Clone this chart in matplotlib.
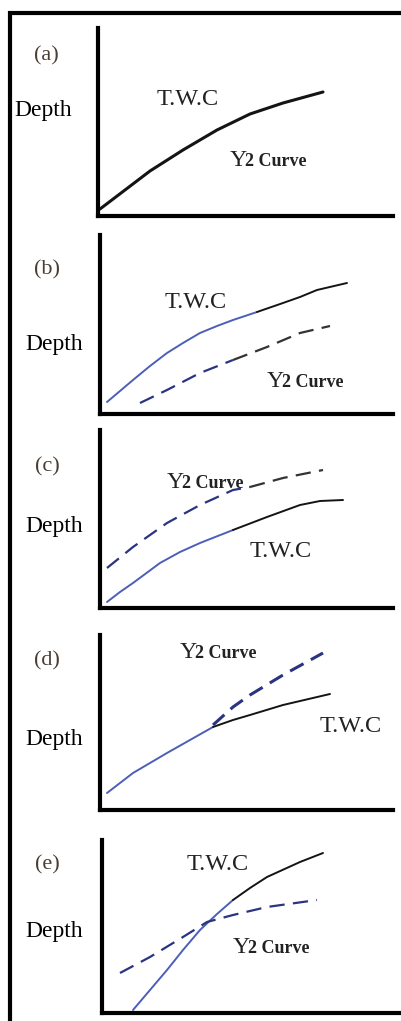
import matplotlib
matplotlib.use("Agg")
import matplotlib.pyplot as plt
from matplotlib.lines import Line2D

W, H = 401, 1021
plt.rcParams['lines.scale_dashes'] = False

# ---- data (axis units: x right from y-axis, y up from x-axis) ----
panel_labels = ["(a)", "(b)", "(c)", "(d)", "(e)"]
y_label = "Depth"
twc_label = "T.W.C"

# panel (a): single black curve
a_twc_x = [2, 27, 52, 85, 119, 152, 185, 225]
a_twc_y = [7, 26, 45, 66, 86, 102, 113, 124]

# panel (b)
b_twc_x = [7, 20, 33, 50, 67, 83, 100, 117, 133, 157, 183, 200, 217, 247]
b_twc_y = [12, 23, 34, 48, 61, 71, 81, 88, 94, 102, 111, 117, 124, 131]
b_y2_x = [40, 67, 100, 133, 167, 200, 230]
b_y2_y = [11, 24, 41, 54, 67, 81, 88]

# panel (c)
c_twc_x = [7, 20, 33, 60, 80, 100, 133, 167, 200, 220, 243]
c_twc_y = [6, 16, 25, 45, 56, 65, 78, 91, 103, 107, 108]
c_y2_x = [7, 33, 67, 100, 133, 150, 183, 223]
c_y2_y = [40, 61, 85, 103, 118, 121, 130, 138]

# panel (d)
d_twc_x = [7, 20, 33, 50, 67, 90, 113, 133, 150, 183, 230]
d_twc_y = [17, 27, 37, 47, 57, 70, 83, 90, 95, 105, 116]
d_y2_x = [113, 133, 150, 183, 223]
d_y2_y = [85, 103, 115, 135, 157]

# panel (e)
e_twc_x = [31, 48, 65, 81, 98, 115, 131, 148, 165, 198, 221]
e_twc_y = [3, 23, 43, 63, 83, 99, 113, 125, 136, 151, 160]
e_y2_x = [18, 48, 81, 105, 131, 165, 215]
e_y2_y = [40, 56, 76, 91, 98, 106, 113]

# colour change position (axis x) for blue -> black
split_twc = [None, 157, 150, 113, 131]
split_y2 = [None, 150, 150, None, None]

# ---- layout (pixels) ----
axes_px = [  # x0, y_bottom, y_top, x1
    (98, 216, 28, 393),
    (100, 414, 235, 393),
    (100, 608, 430, 393),
    (100, 810, 635, 393),
    (102, 1013, 840, 399),
]
label_pos = [(46, 56), (47, 270), (47, 467), (47, 661), (47, 865)]
depth_pos = [(14, 116), (25, 350), (25, 532), (25, 745), (25, 937)]
twc_pos = [(157, 105), (165, 308), (250, 557), (320, 732), (187, 870)]
y2_pos = [(230, 166), (267, 387), (167, 488), (180, 658), (233, 953)]

BLUE = "#4c5fb8"
NAVY = "#2a3480"
BLACK = "#141414"
SERIF = ["Liberation Serif", "DejaVu Serif"]

fig = plt.figure(figsize=(W / 100, H / 100), dpi=100)
fig.patch.set_facecolor("white")

def fx(px):
    return px / W

def fy(py):
    return 1 - py / H

# outer border (top and left)
fig.add_artist(Line2D([fx(8), fx(401)], [fy(13), fy(13)], color="black", lw=3.0,
                      transform=fig.transFigure, solid_capstyle="butt"))
fig.add_artist(Line2D([fx(10), fx(10)], [fy(11), fy(1021)], color="black", lw=3.0,
                      transform=fig.transFigure, solid_capstyle="butt"))

curves = [
    (a_twc_x, a_twc_y, None, None),
    (b_twc_x, b_twc_y, b_y2_x, b_y2_y),
    (c_twc_x, c_twc_y, c_y2_x, c_y2_y),
    (d_twc_x, d_twc_y, d_y2_x, d_y2_y),
    (e_twc_x, e_twc_y, e_y2_x, e_y2_y),
]

def split_plot(ax, xs, ys, split, c1, c2, **kw):
    if split is None:
        ax.plot(xs, ys, color=c2, **kw)
        return
    i = max(k for k, v in enumerate(xs) if v <= split)
    ax.plot(xs[:i + 1], ys[:i + 1], color=c1, **kw)
    ax.plot(xs[i:], ys[i:], color=c2, **kw)

for k, (x0, yb, yt, x1) in enumerate(axes_px):
    ax = fig.add_axes([fx(x0), fy(yb), (x1 - x0) / W, (yb - yt) / H])
    ax.set_xlim(0, x1 - x0)
    ax.set_ylim(0, yb - yt)
    for s in ["top", "right"]:
        ax.spines[s].set_visible(False)
    for s in ["left", "bottom"]:
        ax.spines[s].set_linewidth(3.0)
        ax.spines[s].set_color("black")
    ax.set_xticks([])
    ax.set_yticks([])
    ax.patch.set_alpha(0)

    tx, ty, yx, yy = curves[k]
    if k == 0:
        ax.plot(tx, ty, color=BLACK, lw=2.2, solid_capstyle="round",
                solid_joinstyle="round")
    else:
        split_plot(ax, tx, ty, split_twc[k], BLUE, BLACK, lw=1.4,
                   solid_capstyle="round", solid_joinstyle="round")
        dcol1 = NAVY
        dcol2 = "#333333" if split_y2[k] is not None else NAVY
        dlw = 2.2 if k == 3 else 1.6
        split_plot(ax, yx, yy, split_y2[k], dcol1, dcol2, lw=dlw,
                   dashes=(11, 6))

    # texts
    lx, ly = label_pos[k]
    fig.text(fx(lx), fy(ly), panel_labels[k], ha="center", va="center",
             fontsize=16, color="#4a3e34", family=SERIF)
    dx, dy = depth_pos[k]
    fig.text(fx(dx), fy(dy), y_label, ha="left", va="baseline",
             fontsize=17, color="black", family=SERIF)
    tx_, ty_ = twc_pos[k]
    fig.text(fx(tx_), fy(ty_), twc_label, ha="left", va="baseline",
             fontsize=17.5, color="#222222", family=SERIF)
    yx_, yy_ = y2_pos[k]
    fig.text(fx(yx_), fy(yy_), "Y", ha="left", va="baseline",
             fontsize=17, color="#222222", family=SERIF)
    fig.text(fx(yx_ + 15), fy(yy_), "2 Curve", ha="left", va="baseline",
             fontsize=13, color="#222222", family=SERIF, weight="bold")

fig.savefig("out.png", dpi=100, facecolor="white")
